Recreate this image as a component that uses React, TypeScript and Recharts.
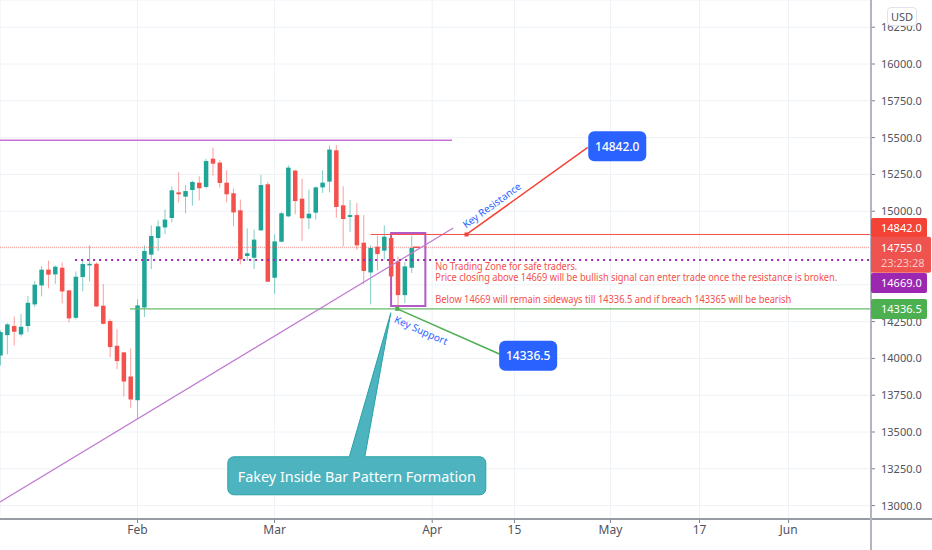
import React from 'react';
import { ComposedChart, Bar, XAxis, YAxis, CartesianGrid, ReferenceLine, ReferenceArea, ReferenceDot } from 'recharts';

const FONT = '"Noto Sans", sans-serif';

// daily candles, first one sits 20 sessions before the Feb tick
const opens = [14020, 14158, 14220, 14163, 14220, 14367, 14496, 14603, 14571, 14616, 14462, 14276, 14553, 14632, 14643, 14358, 14254, 14086, 14041, 13877, 13716, 14346, 14705, 14818, 14890, 14954, 15128, 15099, 15144, 15194, 15165, 15357, 15330, 15194, 15122, 15006, 14696, 14684, 14870, 15183, 14548, 14793, 14965, 15276, 15085, 14952, 14990, 15162, 15201, 15414, 15040, 14961, 14974, 14786, 14584, 14759, 14732, 14818, 14659, 14430, 14616];
const highs = [14190, 14240, 14285, 14301, 14424, 14526, 14628, 14664, 14632, 14652, 14467, 14591, 14662, 14770, 14652, 14505, 14267, 14199, 14045, 14068, 14401, 14768, 14904, 14938, 15011, 15169, 15264, 15178, 15208, 15237, 15357, 15432, 15346, 15278, 15153, 15079, 14884, 14875, 15246, 15199, 14843, 14995, 15312, 15283, 15221, 15147, 15169, 15278, 15446, 15450, 15169, 15076, 15056, 14974, 14768, 14834, 14904, 14847, 14693, 14655, 14836];
const lows = [13952, 14027, 14088, 14149, 14179, 14349, 14421, 14476, 14507, 14374, 14245, 14265, 14455, 14523, 14350, 14231, 14009, 13927, 13741, 13664, 13589, 14281, 14607, 14730, 14843, 14924, 15060, 14986, 15038, 15074, 15156, 15242, 15160, 15060, 14897, 14639, 14662, 14607, 14866, 14519, 14439, 14788, 14961, 14979, 14798, 14879, 14945, 15124, 15128, 14956, 14761, 14859, 14739, 14507, 14367, 14598, 14671, 14421, 14340, 14376, 14580];
const closes = [14179, 14231, 14181, 14215, 14378, 14501, 14603, 14569, 14623, 14455, 14272, 14555, 14641, 14643, 14353, 14235, 14077, 13982, 13843, 13721, 14360, 14730, 14832, 14897, 14943, 15142, 15115, 15137, 15199, 15156, 15341, 15323, 15192, 15115, 14992, 14673, 14714, 14807, 15178, 14521, 14795, 14986, 15296, 15069, 14952, 14983, 15162, 15194, 15419, 15029, 14947, 14974, 14768, 14594, 14750, 14709, 14827, 14557, 14430, 14625, 14750];

const timeTicks = [0, 20, 43, 55, 69, 82, 95];
const timeLabels = ['Feb', 'Mar', 'Apr', '15', 'May', '17', 'Jun'];
const priceTicks = [13000, 13250, 13500, 13750, 14000, 14250, 14500, 14750, 15000, 15250, 15500, 15750, 16000, 16250];
// these two sit completely behind the price tags
const coveredTicks = [14500, 14750];

const X_DOMAIN: [number, number] = [-20.06, 107.02];
const Y_DOMAIN: [number, number] = [12909, 16435];

const RESISTANCE = 14842;
const SUPPORT = 14336.5;
const PIVOT = 14669;
const LAST = 14755;
const RANGE_HIGH = 15482;

const data = opens.map((open, i) => ({
  idx: i - 20,
  open,
  high: highs[i],
  low: lows[i],
  close: closes[i],
  range: [lows[i], highs[i]],
}));

const UP = '#1fa597';
const DOWN = '#f4504c';

const Candle = (props: any) => {
  const { x, y, width, height, payload } = props;
  const { open, close, high, low } = payload;
  const perUnit = height / (high - low);
  const at = (p: number) => y + (high - p) * perUnit;
  const color = close >= open ? UP : DOWN;
  const cx = x + width / 2;
  const top = at(Math.max(open, close));
  const bottom = at(Math.min(open, close));
  return (
    <g>
      <line x1={cx} x2={cx} y1={y} y2={y + height} stroke={color} strokeOpacity={0.55} strokeWidth={1} />
      <rect x={cx - 2.25} y={top} width={4.5} height={Math.max(bottom - top, 1.5)} fill={color} />
    </g>
  );
};

const xTick = (props: any) => {
  const { x, y, payload } = props;
  return (
    <text x={x} y={y + 9} textAnchor="middle" fontFamily={FONT} fontSize={12} fill="#50535e">
      {timeLabels[timeTicks.indexOf(payload.value)]}
    </text>
  );
};

const callout = (w: number, h: number, label: string) => (p: any) => (
  <g>
    <rect x={p.cx - w / 2} y={p.cy - h / 2} width={w} height={h} rx={6} fill="#2962ff" />
    <text x={p.cx} y={p.cy} textAnchor="middle" dominantBaseline="central" fill="#fff" fontFamily={FONT} fontSize={12} fontWeight={500}>{label}</text>
  </g>
);

const fakeyBox = (p: any) => (
  <g>
    <path
      d={`M${p.cx - 129} ${p.cy - 13} a6 6 0 0 1 6 -6 H${p.cx - 7.5} L${p.cx + 34} ${p.cy - 163} L${p.cx + 8} ${p.cy - 19} H${p.cx + 123} a6 6 0 0 1 6 6 V${p.cy + 13} a6 6 0 0 1 -6 6 H${p.cx - 123} a6 6 0 0 1 -6 -6 Z`}
      fill="#4db3bf"
      stroke="#27a3a8"
      strokeWidth={1}
    />
    <text x={p.cx} y={p.cy} textAnchor="middle" dominantBaseline="central" fill="#fff" fontFamily={FONT} fontSize={15} textLength={238} lengthAdjust="spacingAndGlyphs">Fakey Inside Bar Pattern Formation</text>
  </g>
);

const note = (label: string, len: number) => (p: any) => (
  <text x={p.cx} y={p.cy} dominantBaseline="central" fill="#f4504c" fontFamily={FONT} fontSize={10} textLength={len} lengthAdjust="spacingAndGlyphs">{label}</text>
);

const slanted = (label: string, angle: number) => (p: any) => (
  <text x={p.cx} y={p.cy} textAnchor="middle" dominantBaseline="central" fill="#2962ff" fontFamily={FONT} fontSize={10} transform={`rotate(${angle} ${p.cx} ${p.cy})`}>{label}</text>
);

// tags get pushed off their price when they would collide
const priceTag = (label: string, color: string, dy = 0) => (p: any) => (
  <g>
    <rect x={p.cx} y={p.cy + dy - 10} width={56} height={20} rx={2} fill={color} />
    <text x={p.cx + 10} y={p.cy + dy} dominantBaseline="central" fill="#fff" fontFamily={FONT} fontSize={11}>{label}</text>
  </g>
);

const lastTag = (p: any) => (
  <g>
    <rect x={p.cx} y={p.cy - 10.5} width={60} height={36} rx={2} fill="#ef5350" />
    <text x={p.cx + 10} y={p.cy} dominantBaseline="central" fill="#fff" fontFamily={FONT} fontSize={11}>14755.0</text>
    <text x={p.cx + 10} y={p.cy + 15} dominantBaseline="central" fill="#fff" fillOpacity={0.7} fontFamily={FONT} fontSize={11}>23:23:28</text>
  </g>
);

const square = (color: string) => (p: any) => (
  <rect x={p.cx - 2} y={p.cy - 2} width={4} height={4} fill={color} />
);

const MARGIN_TAGS = { top: 0, right: 61, bottom: 31, left: 0 };

export default function App() {
  document.body.style.margin = '0';
  return (
    <div style={{ position: 'relative', width: 932, height: 550, background: '#fff', overflow: 'hidden' }}>
      <ComposedChart width={932} height={550} data={data} margin={{ top: 0, right: 0, bottom: 0, left: 0 }}>
        <CartesianGrid stroke="#eef2f7" strokeWidth={1} />
        <XAxis
          dataKey="idx"
          type="number"
          domain={X_DOMAIN}
          allowDataOverflow
          ticks={timeTicks}
          interval={0}
          height={31}
          axisLine={false}
          tickLine={{ stroke: '#7f828c' }}
          tickSize={4}
          tick={xTick}
        />
        <YAxis
          orientation="right"
          type="number"
          domain={Y_DOMAIN}
          allowDataOverflow
          ticks={priceTicks}
          interval={0}
          width={61}
          axisLine={false}
          tickLine={{ stroke: '#7f828c' }}
          tickSize={4}
          tickMargin={6}
          tick={{ fontFamily: FONT, fontSize: 11, fill: '#50535e' }}
          tickFormatter={(v: number) => (coveredTicks.includes(v) ? '' : v.toFixed(1))}
        />
        <ReferenceLine y={LAST} stroke="#ef5350" strokeOpacity={0.6} strokeDasharray="1 1" />
        <ReferenceLine segment={[{ x: -20.06, y: RANGE_HIGH }, { x: 45.9, y: RANGE_HIGH }]} stroke="#c770d6" strokeWidth={1.5} />
        <ReferenceLine segment={[{ x: -1.1, y: SUPPORT }, { x: 107.02, y: SUPPORT }]} stroke="#66bb6a" strokeWidth={1.2} />
        <Bar dataKey="range" barSize={5} isAnimationActive={false} shape={<Candle />} />
        <ReferenceLine segment={[{ x: -20.06, y: 13024 }, { x: 46.07, y: 14886 }]} stroke="#bf7ad0" strokeWidth={1.2} />
        <ReferenceLine segment={[{ x: -9.1, y: PIVOT }, { x: 107.02, y: PIVOT }]} stroke="#9c27b0" strokeWidth={2} strokeDasharray="2 4" />
        <ReferenceLine segment={[{ x: 34, y: RESISTANCE }, { x: 107.02, y: RESISTANCE }]} stroke="#f4504c" strokeWidth={1} />
        <ReferenceLine segment={[{ x: 40.2, y: LAST }, { x: 41.2, y: LAST }]} stroke="#f4504c" strokeWidth={1.5} />
        <ReferenceLine segment={[{ x: 48, y: RESISTANCE }, { x: 65.7, y: 15434 }]} stroke="#f44336" strokeWidth={1.5} />
        <ReferenceLine segment={[{ x: 37.9, y: SUPPORT }, { x: 52.8, y: 14030 }]} stroke="#4caf50" strokeWidth={1.5} />
        <ReferenceArea x1={37} x2={42} y1={14356} y2={14852} fill="none" stroke="#b25ac8" strokeWidth={2} />
        <ReferenceDot x={48} y={RESISTANCE} ifOverflow="visible" shape={square('#f44336')} />
        <ReferenceDot x={37.9} y={SUPPORT} ifOverflow="visible" shape={square('#4caf50')} />
        <ReferenceDot x={70} y={15441} ifOverflow="visible" shape={callout(58, 30, '14842.0')} />
        <ReferenceDot x={57} y={14018} ifOverflow="visible" shape={callout(58, 30, '14336.5')} />
        <ReferenceDot x={32} y={13202.6} ifOverflow="visible" shape={fakeyBox} />
        <ReferenceDot x={43.45} y={14630} ifOverflow="visible" shape={note('No Trading Zone for safe traders.', 142)} />
        <ReferenceDot x={43.45} y={14555} ifOverflow="visible" shape={note('Price closing above 14669 will be bullish signal can enter trade once the resistance is broken.', 402)} />
        <ReferenceDot x={43.45} y={14401} ifOverflow="visible" shape={note('Below 14669 will remain sideways till 14336.5 and if breach 143365 will be bearish', 356)} />
        <ReferenceDot x={51.66} y={15042} ifOverflow="visible" shape={slanted('Key Resistance', -36)} />
        <ReferenceDot x={41.4} y={14193} ifOverflow="visible" shape={slanted('Key Support', 24)} />
      </ComposedChart>
      {/* axis frame runs the full width and height of the picture */}
      <div style={{ position: 'absolute', left: 0, top: 518, width: 932, height: 2, background: '#9a9ca5' }} />
      <div style={{ position: 'absolute', left: 870, top: 0, width: 2, height: 550, background: '#b2b5be' }} />
      {/* second layer on the same scales so the tags cover the axis labels */}
      <div style={{ position: 'absolute', left: 0, top: 0 }}>
        <ComposedChart width={932} height={550} data={data} margin={MARGIN_TAGS}>
          <XAxis dataKey="idx" type="number" domain={X_DOMAIN} allowDataOverflow hide />
          <YAxis type="number" domain={Y_DOMAIN} allowDataOverflow hide />
          <ReferenceDot x={107.02} y={RESISTANCE} ifOverflow="visible" shape={priceTag('14842.0', '#f44336', -6.5)} />
          <ReferenceDot x={107.02} y={PIVOT} ifOverflow="visible" shape={priceTag('14669.0', '#9c27b0', 23)} />
          <ReferenceDot x={107.02} y={SUPPORT} ifOverflow="visible" shape={priceTag('14336.5', '#4caf50')} />
          <ReferenceDot x={107.02} y={LAST} ifOverflow="visible" shape={lastTag} />
        </ComposedChart>
      </div>
      <div style={{ position: 'absolute', left: 887, top: 7, width: 30, height: 19, boxSizing: 'border-box', border: '1px solid #e0e3eb', borderRadius: 4, background: '#fff', color: '#50535e', fontFamily: FONT, fontSize: 11, lineHeight: '17px', textAlign: 'center' }}>USD</div>
    </div>
  );
}
